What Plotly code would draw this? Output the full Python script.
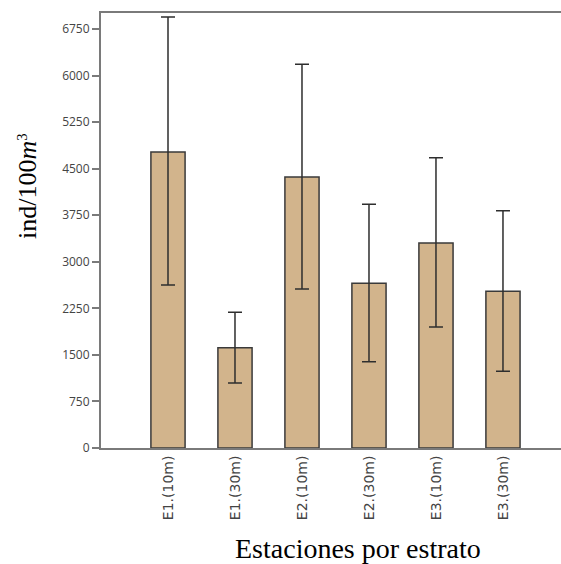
import plotly.graph_objects as go

# Densidad media por estación y estrato (ind/100 m³) con sus límites de error
estaciones = ["E1.(10m)", "E1.(30m)", "E2.(10m)", "E2.(30m)", "E3.(10m)", "E3.(30m)"]
media = [4770, 1616, 4366, 2653, 3303, 2524]
limite_sup = [6944, 2186, 6182, 3926, 4677, 3823]
limite_inf = [2626, 1047, 2561, 1391, 1949, 1235]

y_ticks = [0, 750, 1500, 2250, 3000, 3750, 4500, 5250, 6000, 6750]

err_plus = [s - m for s, m in zip(limite_sup, media)]
err_minus = [m - i for m, i in zip(media, limite_inf)]

W, H = 561, 564
L, R, T, B = 101, 0, 13, 116

fig = go.Figure(
    go.Bar(
        x=estaciones,
        y=media,
        width=0.51,
        marker=dict(color="#D2B48C", line=dict(color="#3a3a3a", width=1.5)),
        error_y=dict(
            type="data",
            symmetric=False,
            array=err_plus,
            arrayminus=err_minus,
            color="#2e2e2e",
            thickness=1.5,
            width=7,
        ),
    )
)

fig.update_layout(
    width=W,
    height=H,
    margin=dict(l=L, r=R, t=T, b=B, pad=0),
    plot_bgcolor="white",
    paper_bgcolor="white",
    showlegend=False,
    bargap=0.49,
)

fig.update_xaxes(
    type="category",
    range=[-1, 5.866],
    showgrid=False,
    showline=True,
    linecolor="#7a7a7a",
    linewidth=2,
    mirror=True,
    ticks="",
    tickangle=-90,
    tickfont=dict(family="DejaVu Sans", size=14, color="#444444"),
)

fig.update_yaxes(
    range=[0, 7008],
    tickvals=y_ticks,
    showgrid=False,
    zeroline=False,
    showline=True,
    linecolor="#7a7a7a",
    linewidth=2,
    ticks="outside",
    ticklen=7,
    tickwidth=1.5,
    tickcolor="#7a7a7a",
    tickfont=dict(family="Open Sans", size=12, color="#444444"),
)

pw = W - L - R
ph = H - T - B

fig.add_annotation(
    text="ind/100<i>m</i><span style='font-size:21px'><sup>3</sup></span>",
    xref="paper", yref="paper",
    x=(27 - L) / pw, y=(H - B - 186) / ph,
    xanchor="center", yanchor="middle",
    textangle=-90,
    showarrow=False,
    font=dict(family="Liberation Serif", size=26, color="black"),
)

fig.add_annotation(
    text="Estaciones por estrato",
    xref="paper", yref="paper",
    x=(358 - L) / pw, y=-(548 - (H - B)) / ph,
    xanchor="center", yanchor="middle",
    showarrow=False,
    font=dict(family="Liberation Serif", size=28, color="black"),
)

fig.write_html("out.html")
